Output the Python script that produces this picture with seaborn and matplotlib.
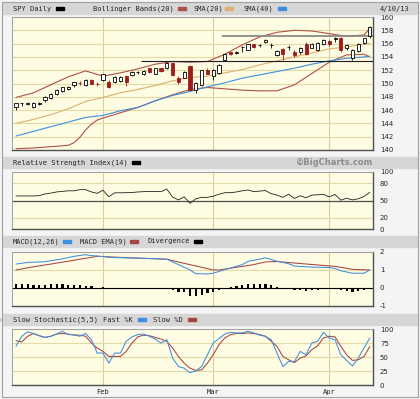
import matplotlib
matplotlib.use('Agg')
import matplotlib.pyplot as plt
from matplotlib.patches import Rectangle
import seaborn as sns

sns.set_style("white")
plt.rcParams['font.family'] = ['DejaVu Sans Mono']

# trading days 10 Jan .. 10 Apr 2013 -> index 0..61
days = list(range(62))
month_idx = [15, 34, 54]
month_labels = ["Feb", "Mar", "Apr"]
last_date = "4/10/13"

opens = [146.5, 147.0, 146.95, 146.4, 146.9, 147.5, 147.8, 148.4, 148.9, 149.2,
         149.7, 150.15, 149.7, 150.5, 149.95, 150.6, 150.3, 150.3, 150.4, 151.1,
         151.3, 151.7, 151.5, 152.3, 151.5, 152.3, 152.3, 153.1, 150.9, 150.9,
         152.6, 149.0, 149.8, 152.0, 151.1, 151.6, 153.6, 154.7, 154.6, 155.45,
         155.1, 155.9, 155.75, 156.3, 155.8, 154.3, 155.2, 155.45, 154.8, 154.7,
         155.9, 155.4, 155.1, 155.9, 156.4, 156.75, 156.8, 155.3, 153.9, 154.9,
         156.1, 157.1]
highs = [147.1, 147.1, 147.2, 147.2, 147.2, 148.1, 148.5, 149.1, 149.5, 149.6,
         150.3, 150.4, 150.7, 150.7, 150.2, 151.5, 150.5, 151.2, 151.2, 151.3,
         151.9, 151.9, 152.0, 152.4, 152.4, 152.4, 153.3, 153.2, 151.1, 151.9,
         152.8, 150.2, 152.1, 152.3, 152.2, 152.9, 154.6, 154.8, 154.9, 155.6,
         156.0, 156.0, 156.0, 156.7, 156.1, 155.0, 155.4, 155.8, 155.0, 155.5,
         156.2, 156.1, 156.2, 156.7, 156.5, 157.0, 157.0, 155.9, 155.2, 156.1,
         156.9, 158.7]
lows = [146.0, 146.6, 146.7, 146.3, 146.8, 147.2, 147.6, 148.2, 148.7, 149.0,
        149.5, 149.8, 149.6, 149.9, 149.6, 150.4, 149.3, 150.1, 150.2, 149.6,
        151.2, 151.5, 151.3, 151.6, 151.4, 151.7, 152.2, 151.2, 149.9, 150.8,
        148.8, 148.6, 149.6, 151.4, 150.6, 151.5, 153.4, 154.3, 154.4, 154.8,
        155.0, 155.3, 155.5, 156.1, 155.4, 154.1, 153.5, 155.0, 154.0, 154.5,
        154.3, 155.3, 154.9, 155.8, 155.6, 156.3, 154.8, 155.1, 153.5, 154.7,
        155.9, 156.9]
closes = [147.0, 147.0, 147.0, 147.1, 147.0, 148.0, 148.4, 149.0, 149.4, 149.4,
          150.2, 150.05, 150.6, 150.0, 149.85, 151.4, 149.5, 151.0, 151.0, 150.3,
          151.8, 151.7, 151.9, 151.8, 152.3, 151.9, 153.1, 151.3, 150.3, 151.8,
          149.0, 150.0, 152.0, 151.5, 152.1, 152.8, 154.5, 154.4, 154.7, 155.5,
          155.9, 155.5, 155.8, 156.5, 155.85, 154.9, 154.4, 155.5, 154.3, 155.4,
          154.5, 156.0, 156.1, 156.6, 155.9, 156.8, 155.0, 155.8, 155.1, 156.0,
          156.8, 158.5]

# overlays at these day positions
ma_idx = [0, 3, 6, 9, 12, 15, 18, 21, 24, 27, 30, 33, 36, 39, 42, 45, 48, 51, 54, 57, 60, 61]
upper_bb = [147.9, 148.6, 149.8, 151.0, 151.9, 151.1, 151.6, 152.2, 152.9, 153.3, 153.2,
            153.3, 154.4, 155.8, 157.0, 157.7, 158.0, 157.9, 157.5, 157.1, 157.3, 158.3]
sma20 = [144.0, 144.6, 145.3, 146.2, 147.3, 147.9, 148.6, 149.1, 149.7, 150.4, 150.9,
         151.1, 151.6, 152.1, 152.8, 153.4, 154.0, 154.6, 155.2, 155.5, 155.9, 156.0]
sma40 = [142.1, 142.8, 143.5, 144.2, 144.9, 145.2, 145.9, 146.4, 147.4, 148.2, 148.8,
         149.5, 150.1, 150.8, 151.3, 151.8, 152.3, 152.9, 153.4, 153.8, 154.0, 154.1]
lower_idx = [0, 3, 6, 9, 10, 11, 12, 13, 14, 15, 18, 21, 24, 27, 30, 33, 36, 39, 42, 45,
             48, 51, 54, 57, 60, 61]
lower_bb = [140.2, 140.3, 140.5, 140.7, 141.1, 141.9, 143.0, 143.9, 144.5, 144.8, 145.6,
            146.4, 147.4, 148.3, 149.1, 149.4, 149.2, 149.0, 148.9, 148.9, 149.8, 151.5,
            153.2, 154.3, 154.4, 154.0]
support_level, support_start = 153.45, 21.5
resist_level, resist_start = 157.1, 35.5

rsi = [58, 58, 58, 58, 58.5, 61.5, 63, 65, 66, 67, 67, 69, 69, 65, 62.5, 68, 56.5, 63.5,
       63.5, 63.7, 64, 65, 65.5, 66, 66, 65.5, 70, 56, 51, 56.5, 45, 53, 55.5, 55.5, 57.5,
       61, 63.7, 63.7, 65, 67, 68.5, 65.5, 66.5, 67.5, 62, 59.5, 55.5, 61, 53.6, 58.3,
       54.8, 59.5, 60, 60.7, 56.5, 60.5, 50.6, 54, 51, 53, 57, 64.3]

macd_idx = [0, 2, 5, 8, 10, 12, 13, 15, 16, 20, 23, 26, 27, 29, 30, 31, 33, 34, 36, 39,
            40, 42, 43, 45, 47, 48, 51, 54, 55, 56, 58, 60, 61]
macd = [1.33, 1.42, 1.46, 1.62, 1.76, 1.85, 1.80, 1.75, 1.70, 1.67, 1.64, 1.60, 1.45,
        1.15, 1.00, 0.80, 0.78, 0.82, 1.02, 1.30, 1.48, 1.60, 1.68, 1.49, 1.35, 1.22,
        1.16, 1.14, 1.08, 0.96, 0.82, 0.82, 1.00]
ema_idx = [0, 3, 6, 9, 12, 14, 16, 20, 26, 29, 32, 34, 35, 37, 41, 43, 45, 49, 55, 58, 61]
macd_ema = [1.00, 1.18, 1.33, 1.49, 1.65, 1.76, 1.73, 1.67, 1.60, 1.37, 1.15, 1.00, 1.00,
            1.10, 1.30, 1.45, 1.47, 1.36, 1.20, 1.04, 1.00]
divergence = [0.24, 0.24, 0.22, 0.16, 0.14, 0.17, 0.2, 0.2, 0.2, 0.19, 0.18, 0.16, 0.13,
              0.09, 0.02, 0.03, -0.02, 0.0, -0.01, -0.04, -0.05, -0.05, -0.02, -0.05,
              -0.05, -0.06, -0.02, -0.12, -0.22, -0.24, -0.42, -0.45, -0.38, -0.3, -0.2,
              -0.1, -0.02, 0.05, 0.1, 0.18, 0.25, 0.25, 0.22, 0.24, 0.15, 0.05, -0.03,
              -0.05, -0.13, -0.12, -0.14, -0.12, -0.1, -0.08, -0.06, -0.06, -0.12, -0.15,
              -0.2, -0.18, -0.12, -0.02]

fast_k = [69, 87, 95, 92, 88, 85, 87, 91, 96, 90, 90, 87, 92, 81, 57, 57, 39, 57, 57, 78,
          86, 90, 91, 87, 82, 75, 81, 48, 33, 30, 22, 25, 33, 54, 75, 83, 91, 94, 93, 93,
          96, 93, 89, 87, 81, 57, 33, 42, 42, 60, 54, 75, 78, 94, 84, 81, 54, 44, 34, 48,
          66, 84]
slow_d = [79, 77, 87, 92, 88, 85, 87, 91, 92, 91, 89, 89, 87, 75, 66, 60, 51, 51, 51, 60,
          75, 86, 89, 88, 85, 82, 78, 66, 51, 39, 30, 26, 27, 39, 54, 72, 84, 90, 92, 92,
          93, 92, 90, 87, 78, 69, 51, 45, 40, 48, 52, 63, 70, 84, 87, 86, 69, 54, 44, 45,
          51, 69]

# ---- styling ----
W, H = 420, 399
fig_bg = "#F4F4F4"
bar_bg = "#D6D6D6"
panel_bg = "#FEFCE2"
grid_c = "#E3DAA6"
vgrid_c = "#D6CE9C"
red = "#9E1B1B"
band_c = "#B0504A"
tan_c = "#DDB070"
blue_c = "#3F8FE0"
ema_c = "#A84444"
XL = (-0.69, 61.55)

fig = plt.figure(figsize=(W / 100, H / 100), dpi=100, facecolor=fig_bg)


def add_bar(top, bottom, items, right=None):
    fig.patches.append(Rectangle((3 / W, 1 - bottom / H), 414 / W, (bottom - top) / H,
                                 transform=fig.transFigure, color=bar_bg, zorder=0))
    yc = 1 - (top + bottom) / 2 / H
    for tx, label, dx, dc in items:
        fig.text(tx / W, yc, label, fontsize=5, va="center", ha="left")
        fig.patches.append(Rectangle((dx / W, yc - 1.3 / H), 8 / W, 2.8 / H,
                                     transform=fig.transFigure, color=dc, zorder=1))
    if right:
        fig.text(373 / W, yc, right, fontsize=6, fontweight="bold", color="#8C8C8C",
                 va="center", ha="right", family="DejaVu Sans")


def add_panel(top, bottom, ylim, yticks, ylabels):
    ax = fig.add_axes([12 / W, 1 - bottom / H, 361 / W, (bottom - top) / H])
    ax.set_facecolor(panel_bg)
    ax.set_xlim(*XL)
    ax.set_ylim(*ylim)
    ax.yaxis.tick_right()
    ax.set_yticks(yticks)
    ax.set_yticklabels(ylabels, fontsize=5, family="DejaVu Sans")
    ax.set_xticks(month_idx)
    ax.set_xticklabels([])
    ax.tick_params(length=0, pad=5)
    ax.grid(True, axis="y", color=grid_c, lw=0.8)
    ax.grid(True, axis="x", color=vgrid_c, lw=0.8)
    ax.set_axisbelow(True)
    for s in ["top", "left"]:
        ax.spines[s].set_color("#A0A0A0")
        ax.spines[s].set_linewidth(0.7)
    for s in ["bottom", "right"]:
        ax.spines[s].set_color("#505050")
        ax.spines[s].set_linewidth(1.0)
    ax.set_xlabel("")
    ax.set_ylabel("")
    return ax


# header bars
add_bar(3, 14, [(13, "SPY Daily", 56, "black"),
                (93, "Bollinger Bands(20)", 178, band_c),
                (193, "SMA(20)", 225, tan_c),
                (243, "SMA(40)", 278, blue_c)])
fig.text(409 / W, 1 - 8.5 / H, last_date, fontsize=5, ha="right", va="center")
add_bar(157, 168, [(13, "Relative Strength Index(14)", 132, "black")], right="\u00a9BigCharts.com")
add_bar(236, 247, [(13, "MACD(12,26)", 63, blue_c),
                   (80, "MACD EMA(9)", 130, ema_c),
                   (147, "Divergence", 194, "black")])
add_bar(314, 325, [(13, "Slow Stochastic(5,5)", 0, bar_bg),
                   (103, "Fast %K", 138, blue_c),
                   (153, "Slow %D", 188, ema_c)])

# ---- price panel ----
ticks = list(range(140, 161, 2))
ax = add_panel(17, 150, (140, 160), ticks, [str(t) for t in ticks])
sns.lineplot(x=lower_idx, y=lower_bb, ax=ax, color=band_c, lw=0.8)
sns.lineplot(x=ma_idx, y=upper_bb, ax=ax, color=band_c, lw=0.8)
sns.lineplot(x=ma_idx, y=sma20, ax=ax, color=tan_c, lw=0.8)
sns.lineplot(x=ma_idx, y=sma40, ax=ax, color=blue_c, lw=0.8)
ax.hlines(support_level, support_start, XL[1], color="#202020", lw=0.8)
ax.hlines(resist_level, resist_start, XL[1], color="#8A8A8A", lw=1.3)

down = [c < o for o, c in zip(opens, closes)]
wick_c = [red if d else "black" for d in down]
face_c = [red if d else "white" for d in down]
bottoms = [min(o, c) for o, c in zip(opens, closes)]
heights = [abs(c - o) for o, c in zip(opens, closes)]
ax.vlines(days, lows, highs, colors=wick_c, lw=0.6, zorder=3)
ax.bar(days, heights, bottom=bottoms, width=0.52, color=face_c, edgecolor=wick_c,
       lw=0.6, zorder=4)
ax.set_xlim(*XL)
ax.set_ylim(140, 160)

# ---- RSI ----
ax = add_panel(172, 229, (0, 100), [0, 20, 50, 80, 100], ["0", "20", "50", "80", "100"])
ax.axhline(50, color="#505050", lw=0.9)
sns.lineplot(x=days, y=rsi, ax=ax, color="#202020", lw=0.6)
ax.set_xlim(*XL)

# ---- MACD ----
ax = add_panel(252, 306, (-1, 2), [-1, 0, 1, 2], ["-1", "0", "1", "2"])
ax.axhline(0, color="black", lw=0.8)
sns.barplot(x=days, y=divergence, ax=ax, native_scale=True, color="black",
            width=0.38, errorbar=None, saturation=1, linewidth=0)
sns.lineplot(x=ema_idx, y=macd_ema, ax=ax, color=ema_c, lw=0.75)
sns.lineplot(x=macd_idx, y=macd, ax=ax, color=blue_c, lw=0.75)
ax.set_xlim(*XL)
ax.set_xticks(month_idx)
ax.set_xticklabels([])
ax.set_xlabel("")

# ---- Stochastic ----
ax = add_panel(329, 385, (0, 100), [0, 25, 50, 75, 100], ["0", "25", "50", "75", "100"])
sns.lineplot(x=days, y=slow_d, ax=ax, color=ema_c, lw=0.75)
sns.lineplot(x=days, y=fast_k, ax=ax, color=blue_c, lw=0.75)
ax.set_xlim(*XL)
ax.set_xticklabels(month_labels, fontsize=5)
ax.tick_params(axis="x", pad=3)

fig.patches.append(Rectangle((2 / W, 2 / H), 416 / W, 395 / H, transform=fig.transFigure,
                             fill=False, edgecolor="#A0A0A0", lw=0.8, zorder=5))

fig.savefig("out.png", dpi=100, facecolor=fig_bg)
